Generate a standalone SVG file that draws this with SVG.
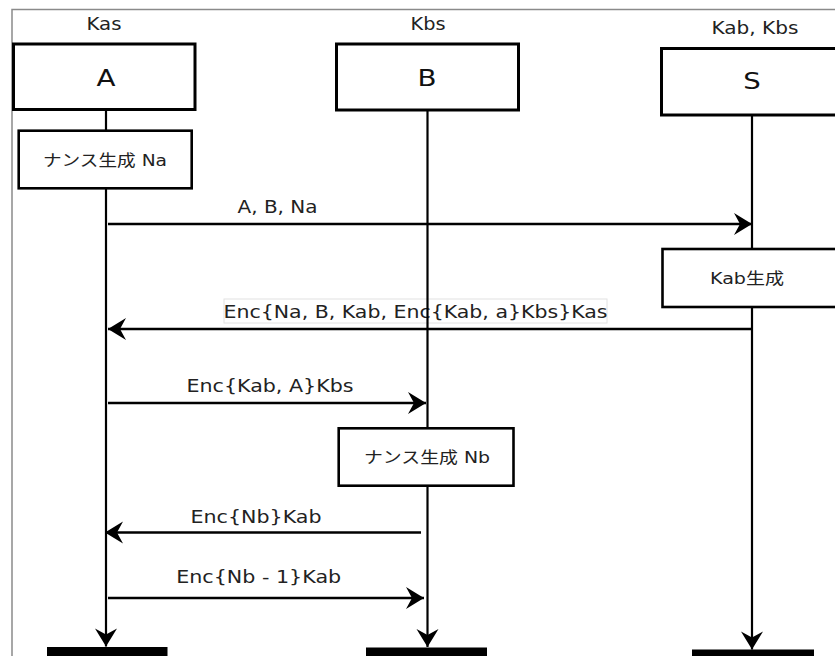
<svg xmlns="http://www.w3.org/2000/svg" width="835" height="656" viewBox="0 0 835 656">
<defs>
<style>
text{font-family:"DejaVu Sans","Noto Sans CJK JP",sans-serif;fill:#222;text-anchor:middle}
.top{font-size:18px}
.big{font-size:23px;fill:#111}
.msg{font-size:18px}
.act{font-size:16px}
.box{fill:#fff;stroke:#000;stroke-width:3}
.abox{fill:#fff;stroke:#000;stroke-width:2.6}
.line{stroke:#000;stroke-width:2.5;fill:none}
.life{stroke:#000;stroke-width:2.2;fill:none}
</style>
<marker id="ah" viewBox="-20 -12 22 24" refX="0" refY="0" markerWidth="22" markerHeight="24" markerUnits="userSpaceOnUse" orient="auto">
<path d="M0,0 L-18,-11 L-12,0 L-18,11 Z" fill="#000"/>
</marker>
</defs>
<rect width="835" height="656" fill="#fff"/>
<rect id="frame" x="12" y="9.5" width="900" height="700" fill="none" stroke="#8a8a8a" stroke-width="1.5"/>

<g id="connectors">
<g id="msg1">
<line class="line" x1="108" y1="224" x2="752" y2="224" marker-end="url(#ah)"/>
<text class="msg" x="277.5" y="212.5" textLength="80" lengthAdjust="spacingAndGlyphs">A, B, Na</text>
</g>
<g id="msg2">
<line class="line" x1="752" y1="329" x2="108" y2="329" marker-end="url(#ah)"/>
<rect x="224" y="299" width="383" height="24" fill="#fff" stroke="#e2e2e2" stroke-width="1"/>
<text class="msg" x="415.5" y="318" textLength="384" lengthAdjust="spacingAndGlyphs">Enc{Na, B, Kab, Enc{Kab, a}Kbs}Kas</text>
</g>
<g id="msg3">
<line class="line" x1="108" y1="403" x2="426" y2="403" marker-end="url(#ah)"/>
<text class="msg" x="270" y="392" textLength="167" lengthAdjust="spacingAndGlyphs">Enc{Kab, A}Kbs</text>
</g>
<g id="msg4">
<line class="line" x1="421" y1="532.5" x2="105" y2="532.5" marker-end="url(#ah)"/>
<text class="msg" x="256" y="522.5" textLength="131" lengthAdjust="spacingAndGlyphs">Enc{Nb}Kab</text>
</g>
<g id="msg5">
<line class="line" x1="108" y1="598" x2="424" y2="598" marker-end="url(#ah)"/>
<text class="msg" x="258.7" y="582.7" textLength="165" lengthAdjust="spacingAndGlyphs">Enc{Nb - 1}Kab</text>
</g>
<g id="lifelines">
<line class="life" x1="106" y1="110" x2="106" y2="646.5" marker-end="url(#ah)"/>
<line class="life" x1="427.5" y1="110" x2="427.5" y2="647" marker-end="url(#ah)"/>
<line class="life" x1="752" y1="115" x2="752" y2="649.5" marker-end="url(#ah)"/>
</g>
</g>

<g id="node-A">
<text class="top" x="104" y="30" textLength="35" lengthAdjust="spacingAndGlyphs">Kas</text>
<rect class="box" x="13.5" y="44" width="181.5" height="65.5"/>
<text class="big" x="106" y="86" textLength="19" lengthAdjust="spacingAndGlyphs">A</text>
</g>
<g id="node-B">
<text class="top" x="428" y="30" textLength="35" lengthAdjust="spacingAndGlyphs">Kbs</text>
<rect class="box" x="336.5" y="44" width="182" height="66"/>
<text class="big" x="427" y="86" textLength="19" lengthAdjust="spacingAndGlyphs">B</text>
</g>
<g id="node-S">
<text class="top" x="755" y="34" textLength="87" lengthAdjust="spacingAndGlyphs">Kab, Kbs</text>
<rect class="box" x="661.5" y="48.5" width="182" height="66.5"/>
<text class="big" x="752" y="89" textLength="17.5" lengthAdjust="spacingAndGlyphs">S</text>
</g>
<g id="act-Na">
<rect class="abox" x="18.7" y="130.7" width="173" height="57.6"/>
<text class="act" x="105" y="166" textLength="124" lengthAdjust="spacingAndGlyphs">ナンス生成 Na</text>
</g>
<g id="act-Kab">
<rect class="abox" x="662.5" y="249" width="190" height="58"/>
<text class="act" x="747" y="283.5" textLength="74" lengthAdjust="spacingAndGlyphs">Kab生成</text>
</g>
<g id="act-Nb">
<rect class="abox" x="338.7" y="428.3" width="174.8" height="57.4"/>
<text class="act" x="427" y="463" textLength="126" lengthAdjust="spacingAndGlyphs">ナンス生成 Nb</text>
</g>
<g id="end-A"><rect x="47" y="647" width="120.5" height="12" fill="#000"/></g>
<g id="end-B"><rect x="366" y="647.5" width="121" height="12" fill="#000"/></g>
<g id="end-S"><rect x="692" y="649.5" width="122" height="12" fill="#000"/></g>
</svg>
